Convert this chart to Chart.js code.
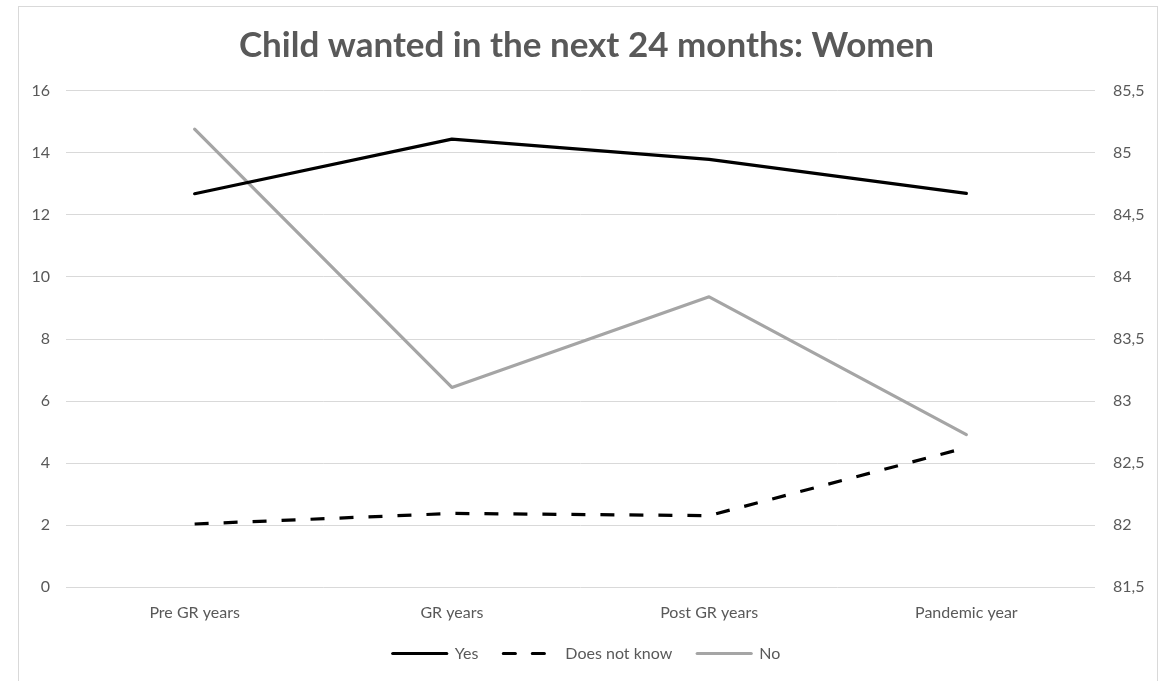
<!DOCTYPE html>
<html>
<head>
<meta charset="utf-8">
<script src="https://cdn.jsdelivr.net/npm/chart.js@4"></script>
<style>
  html, body { margin: 0; padding: 0; background: #ffffff; overflow: hidden; width: 1173px; height: 681px; }
  #frame { position: absolute; left: 18px; top: 6px; width: 1140px; height: 720px; border: 1px solid #D9D9D9; box-sizing: border-box; }
  #c { position: absolute; left: 0; top: 0; }
</style>
</head>
<body>
<div id="frame"></div>
<canvas id="c" width="1173" height="686"></canvas>
<script>
const categories = ["Pre GR years", "GR years", "Post GR years", "Pandemic year"];
const yesValues = [12.68, 14.44, 13.79, 12.69];
const doesNotKnowValues = [2.04, 2.38, 2.31, 4.5];
const noValues = [85.19, 83.11, 83.84, 82.73];
const seriesNames = ["Yes", "Does not know", "No"];
const titleText = "Child wanted in the next 24 months: Women";

const FONT = "Lato, 'Liberation Sans', sans-serif";
const TXT = "#595959";

new Chart(document.getElementById("c"), {
  type: "line",
  data: {
    labels: categories,
    datasets: [
      { label: seriesNames[0], data: yesValues, yAxisID: "y", borderColor: "#000000", backgroundColor: "#000000",
        borderWidth: 3.2, pointRadius: 0, tension: 0, borderCapStyle: "round", borderJoinStyle: "round" },
      { label: seriesNames[1], data: doesNotKnowValues, yAxisID: "y", borderColor: "#000000", backgroundColor: "#000000",
        borderWidth: 3.2, borderDash: [14, 15], pointRadius: 0, tension: 0, borderCapStyle: "butt" },
      { label: seriesNames[2], data: noValues, yAxisID: "y1", borderColor: "#A5A5A5", backgroundColor: "#A5A5A5",
        borderWidth: 3.2, pointRadius: 0, tension: 0, borderCapStyle: "round", borderJoinStyle: "round" }
    ]
  },
  options: {
    responsive: false,
    animation: false,
    layout: { padding: { left: 0, right: 0, top: 0, bottom: 14.5 } },
    plugins: {
      title: {
        display: true, text: titleText, color: TXT,
        font: { family: FONT, size: 35, weight: "bold", lineHeight: 1.2 },
        padding: { top: 24.5, bottom: 24.2 }
      },
      legend: {
        position: "bottom",
        labels: {
          usePointStyle: true, pointStyle: "line", pointStyleWidth: 54,
          color: TXT, font: { family: FONT, size: 16 }, padding: 25,
          generateLabels: (chart) => {
            const items = Chart.defaults.plugins.legend.labels.generateLabels(chart);
            items.forEach((it) => {
              const ds = chart.data.datasets[it.datasetIndex];
              it.lineDash = ds.borderDash ? [12, 17] : [];
              it.lineWidth = 3.2;
              it.strokeStyle = ds.borderColor;
              it.lineCap = "round";
            });
            return items;
          }
        }
      },
      tooltip: { enabled: false }
    },
    scales: {
      x: {
        offset: true,
        grid: { display: false, drawTicks: false, offset: true },
        border: { display: false },
        ticks: { color: TXT, font: { family: FONT, size: 16 }, padding: 16, maxRotation: 0 },
        afterFit: (s) => { s.height = 33.2; }
      },
      y: {
        position: "left", min: 0, max: 16,
        ticks: { stepSize: 2, color: TXT, font: { family: FONT, size: 16 }, padding: 16 },
        grid: { color: "#D9D9D9", lineWidth: 1, drawTicks: false },
        border: { display: false },
        afterFit: (s) => { s.width = 66; }
      },
      y1: {
        position: "right", min: 81.5, max: 85.5,
        ticks: { stepSize: 0.5, color: TXT, font: { family: FONT, size: 16 }, padding: 18,
          callback: (v) => String(v).replace(".", ",") },
        grid: { drawOnChartArea: false, drawTicks: false },
        border: { display: false },
        afterFit: (s) => { s.width = 78; }
      }
    }
  }
});
</script>
</body>
</html>
